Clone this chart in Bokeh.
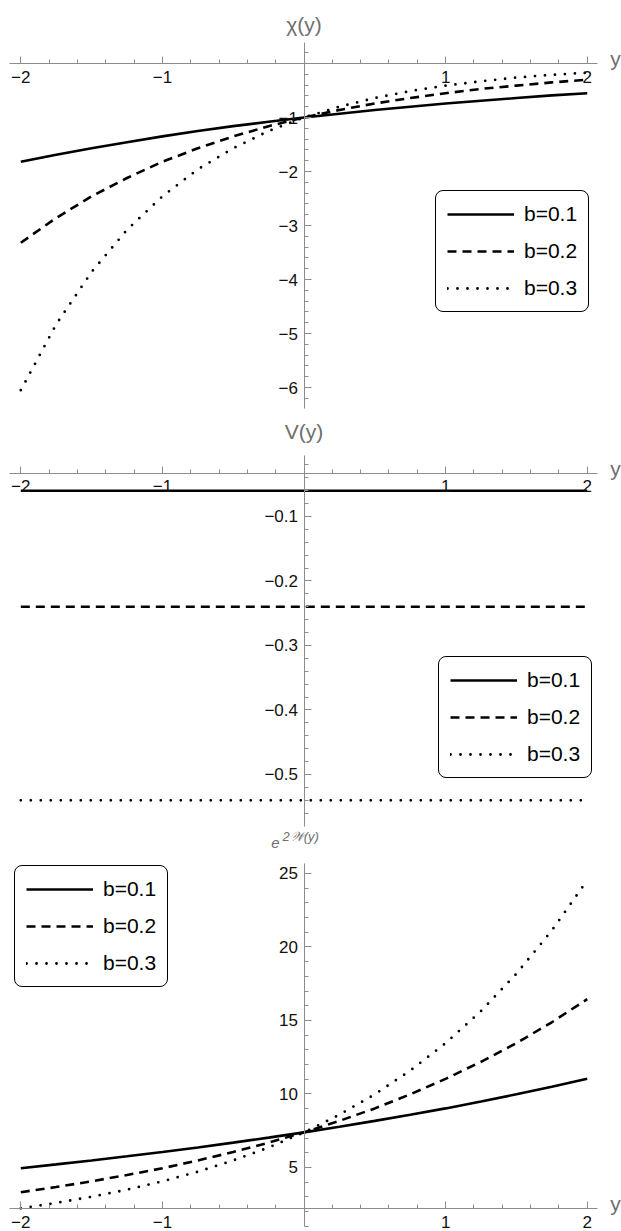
from bokeh.plotting import figure
from bokeh.models import (FixedTicker, Legend, LegendItem, Label, Range1d,
                          CustomJSTickFormatter)
from bokeh.layouts import column
from bokeh.embed import file_html
from bokeh.resources import INLINE

# ---------------- data ----------------
y_vals = [-2, -1.75, -1.5, -1.25, -1, -0.75, -0.5, -0.25, 0,
          0.25, 0.5, 0.75, 1, 1.25, 1.5, 1.75, 2]
b_labels = ["b=0.1", "b=0.2", "b=0.3"]

chi_b01 = [-1.82, -1.69, -1.57, -1.46, -1.35, -1.25, -1.16, -1.08, -1.00,
           -0.93, -0.86, -0.80, -0.74, -0.69, -0.64, -0.59, -0.55]
chi_b02 = [-3.32, -2.86, -2.46, -2.12, -1.82, -1.57, -1.35, -1.16, -1.00,
           -0.86, -0.74, -0.64, -0.55, -0.47, -0.41, -0.35, -0.30]
chi_b03 = [-6.05, -4.83, -3.86, -3.08, -2.46, -1.96, -1.57, -1.25, -1.00,
           -0.80, -0.64, -0.51, -0.41, -0.33, -0.26, -0.21, -0.17]

V_b01 = [-0.06] * 17
V_b02 = [-0.24] * 17
V_b03 = [-0.54] * 17

e2W_b01 = [4.95, 5.21, 5.48, 5.76, 6.05, 6.36, 6.69, 7.03, 7.39,
           7.77, 8.17, 8.59, 9.02, 9.49, 9.98, 10.49, 11.03]
e2W_b02 = [3.32, 3.67, 4.06, 4.49, 4.95, 5.48, 6.05, 6.69, 7.39,
           8.17, 9.02, 9.98, 11.03, 12.19, 13.46, 14.88, 16.45]
e2W_b03 = [2.22, 2.59, 3.01, 3.49, 4.06, 4.71, 5.48, 6.36, 7.39,
           8.59, 9.98, 11.59, 13.46, 15.64, 18.18, 21.12, 24.53]

x_major = [-2, -1, 1, 2]
x_minor = [-2.0, -1.8, -1.6, -1.4, -1.2, -0.8, -0.6, -0.4, -0.2,
           0.2, 0.4, 0.6, 0.8, 1.2, 1.4, 1.6, 1.8, 2.0]

chi_major = [-1, -2, -3, -4, -5, -6]
chi_minor = [0.2, -0.2, -0.4, -0.6, -0.8, -1.2, -1.4, -1.6, -1.8, -2.2, -2.4,
             -2.6, -2.8, -3.2, -3.4, -3.6, -3.8, -4.2, -4.4, -4.6, -4.8,
             -5.2, -5.4, -5.6, -5.8, -6.2]
V_major = [-0.1, -0.2, -0.3, -0.4, -0.5]
V_minor = [-0.02, -0.04, -0.06, -0.08, -0.12, -0.14, -0.16, -0.18,
           -0.22, -0.24, -0.26, -0.28, -0.32, -0.34, -0.36, -0.38,
           -0.42, -0.44, -0.46, -0.48, -0.52, -0.54, -0.56]
W_major = [5, 10, 15, 20, 25]
W_minor = [1, 2, 3, 4, 6, 7, 8, 9, 11, 12, 13, 14, 16, 17, 18, 19,
           21, 22, 23, 24]

# ---------------- styling ----------------
FONT = "Liberation Sans"
AXIS_COL = "#8c8c8c"
LABEL_COL = "#6e6e6e"
STYLES = [dict(line_dash="solid", line_width=2.6),
          dict(line_dash="9 6", line_width=2.6),
          dict(line_dash="0 10", line_width=2.8, line_cap="round")]

fmt_code = "const s = Math.abs(tick).toString(); return tick < 0 ? '\u2212' + s : s;"

X_VIEW = (-2.1434, 2.2422)     # whole canvas width
X_AXIS_BOUNDS = (-2.08, 2.075)


def make_panel(series, y_view, y_bounds, x_cross, ymaj, ymin, fh,
               leg_xy, names, yname_y):
    p = figure(frame_width=621, frame_height=fh,
               x_range=Range1d(*X_VIEW), y_range=Range1d(*y_view),
               output_backend="svg", toolbar_location=None,
               min_border_left=0, min_border_right=0,
               min_border_top=0, min_border_bottom=0)
    p.outline_line_color = None
    p.xgrid.visible = False
    p.ygrid.visible = False
    p.background_fill_color = "white"

    xa = p.xaxis[0]
    ya = p.yaxis[0]
    xa.fixed_location = x_cross
    ya.fixed_location = 0
    xa.bounds = X_AXIS_BOUNDS
    ya.bounds = y_bounds
    xa.ticker = FixedTicker(ticks=x_major, minor_ticks=x_minor)
    ya.ticker = FixedTicker(ticks=ymaj, minor_ticks=ymin)
    for ax in (xa, ya):
        ax.formatter = CustomJSTickFormatter(code=fmt_code)
        ax.axis_line_color = AXIS_COL
        ax.axis_line_width = 1
        ax.major_tick_line_color = AXIS_COL
        ax.minor_tick_line_color = AXIS_COL
        ax.major_tick_in = 7
        ax.major_tick_out = 0
        ax.minor_tick_in = 4
        ax.minor_tick_out = 0
        ax.major_label_text_font = FONT
        ax.major_label_text_font_size = "17px"
        ax.major_label_text_color = "#111111"
    xa.major_label_standoff = 7
    ya.major_label_standoff = 6

    items = []
    for (vals, lab, st) in zip(series, b_labels, STYLES):
        r = p.line(y_vals, vals, line_color="black", **st)
        items.append(LegendItem(label=lab, renderers=[r]))

    leg = Legend(items=items, location=leg_xy, padding=11, spacing=13,
                 glyph_width=67, glyph_height=24, label_height=24,
                 label_standoff=10, label_text_font=FONT,
                 label_text_font_size="21px", label_text_color="black",
                 border_line_color="black", border_line_width=1.7,
                 border_line_alpha=1.0,
                 background_fill_color="white", background_fill_alpha=1.0,
                 margin=0)
    if "border_radius" in Legend.properties():
        leg.border_radius = 8
    p.add_layout(leg, "center")

    # axis names
    for (txt, x, y, align, size, style) in names:
        p.add_layout(Label(x=x, y=y, text=txt,
                           text_align=align, text_baseline="middle",
                           text_font=FONT, text_font_size=size,
                           text_font_style=style, text_color=LABEL_COL))
    p.add_layout(Label(x=2.20, y=yname_y, text="y", text_align="center",
                       text_baseline="middle", text_font=FONT,
                       text_font_size="21px", text_color=LABEL_COL))
    return p


p1 = make_panel([chi_b01, chi_b02, chi_b03], (-6.574, 1.1667), (-6.39, 0.389),
                0, chi_major, chi_minor, 418, (435, 106),
                [("\u03c7(y)", 0, 0.722, "center", "21px", "normal")], 0.093)
p2 = make_panel([V_b01, V_b02, V_b03], (-0.5822, 0.0519), (-0.581, -0.0054),
                -0.0333, V_major, V_minor, 409, (438, 49),
                [("V(y)", 0, 0.0318, "center", "21px", "normal")], -0.0256)
p3 = make_panel([e2W_b01, e2W_b02, e2W_b03], (0.646, 28.129), (1.0, 25.7),
                2.2, W_major, W_minor, 404, (14, 244),
                [("e", -0.201, 27.05, "center", "15px", "italic"),
                 ("2\U0001D4B2(y)", -0.152, 27.50, "left", "13px", "italic")],
                2.55)

layout = column(p1, p2, p3, spacing=0)
open("out.html", "w").write(file_html(layout, INLINE))
